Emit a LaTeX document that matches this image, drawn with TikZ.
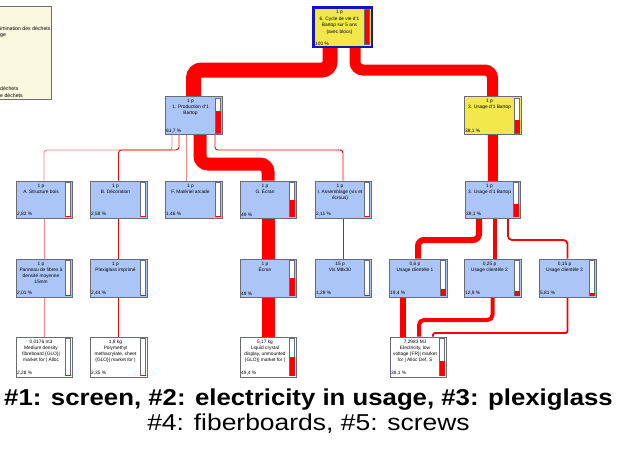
\documentclass[tikz,border=0pt]{standalone}
\usepackage{fontspec}
\setmainfont{Liberation Sans}
\usetikzlibrary{backgrounds}
\definecolor{nodeblue}{RGB}{170,197,246}
\definecolor{nodeyellow}{RGB}{242,232,76}
\definecolor{legendyellow}{RGB}{250,248,222}
\definecolor{bordergray}{RGB}{105,108,118}
\definecolor{topblue}{RGB}{20,20,190}
\definecolor{flowred}{RGB}{255,0,0}
\tikzset{
  box/.style={draw=bordergray, line width=0.9pt, inner sep=0pt, rectangle},
  bluebox/.style={box, fill=nodeblue},
  yelbox/.style={box, fill=nodeyellow},
  whitebox/.style={box, fill=white},
  topbox/.style={box, fill=nodeyellow, draw=topblue, line width=2.5pt},
  txt/.style={font=\fontsize{4.8}{6}\selectfont, align=center, inner sep=0pt},
  legtxt/.style={font=\fontsize{5.2}{6}\selectfont, inner sep=0pt},
  flow/.style={draw=flowred, rounded corners=8pt},
  thinflow/.style={draw=flowred, line width=0.9pt, rounded corners=3pt},
  paleflow/.style={thinflow, draw=flowred!50}
}
% #1 name, #2 cx, #3 cy, #4 w, #5 h, #6 style, #7 share, #8 text, #9 percent
\newcommand\procnode[9]{%
  \node[#6, minimum width=#4pt, minimum height=#5pt] (#1) at (#2,#3) {};
  \draw[draw=bordergray, fill=white, line width=0.5pt]
    ({#2+#4/2-6.5},{#3-#5/2+1.5}) rectangle ({#2+#4/2-1.5},{#3+#5/2-1.5});
  \fill[flowred] ({#2+#4/2-6.5},{#3+#5/2-1.5}) rectangle ({#2+#4/2-1.5},{#3+#5/2-1.5-#7*(#5-3)});
  \node[txt, anchor=north] (#1-t) at ({#2-3},{#3-#5/2+2.5}) {#8};
  \node[txt, anchor=south west] (#1-p) at ({#2-#4/2+1},{#3+#5/2-1.5}) {#9};
}
\begin{document}
\begin{tikzpicture}[x=1pt, y=-1pt]
\useasboundingbox (0,0) rectangle (617,448);

% legend (cut off at the left edge)
\node[draw=bordergray, fill=legendyellow, line width=0.9pt, minimum width=60pt,
      minimum height=93pt, inner sep=0pt, anchor=north east] (legend) at (52,6) {};
\node[legtxt, anchor=base west] (leg1) at (0,30) {imination des déchets};
\node[legtxt, anchor=base west] (leg2) at (0,36) {ge};
\node[legtxt, anchor=base west] (leg3) at (0,90) {déchets};
\node[legtxt, anchor=base west] (leg4) at (0,97) {e déchets};

% top node
\node[topbox, minimum width=58.5pt, minimum height=39.5pt] (top) at (342.5,27) {};
\draw[draw=bordergray, fill=flowred, line width=0.5pt] (364.5,9.5) rectangle (369.5,44.5);
\node[txt, font=\fontsize{4.8}{6.5}\selectfont, anchor=north] (top-t) at (339.5,10)
  {1 p\\6. Cycle de vie d'1\\Bartop sur 5 ans\\(avec blocs)};
\node[txt, anchor=south west] (top-p) at (315,45.5) {100 \%};

% level 1
\procnode{prod}{193.5}{115.5}{57}{38}{bluebox}{0.617}{1 p\\1. Production d'1\\Bartop}{61,7 \%}
\procnode{use1}{492.5}{115.5}{57}{38}{yelbox}{0.381}{1 p\\3. Usage d'1 Bartop}{38,1 \%}

% level 2
\procnode{A}{44}{199.5}{56}{37}{bluebox}{0.0282}{1 p\\A. Structure bois}{2,82 \%}
\procnode{B}{118.5}{199.5}{57}{37}{bluebox}{0.0258}{1 p\\B. Décoration}{2,58 \%}
\procnode{F}{193.5}{199.5}{57}{37}{bluebox}{0.0146}{1 p\\F. Matériel arcade}{1,46 \%}
\procnode{G}{268}{199.5}{56}{37}{bluebox}{0.49}{1 p\\G. Écran}{49 \%}
\procnode{I}{343}{199.5}{56}{37}{bluebox}{0.0211}{1 p\\I. Assemblage (vis et\\écrous)}{2,11 \%}
\procnode{use2}{492.5}{199.5}{55}{37}{bluebox}{0.381}{1 p\\3. Usage d'1 Bartop}{38,1 \%}

% level 3
\procnode{pan}{44}{278}{56}{38}{bluebox}{0.0201}{1 p\\Panneau de fibres à\\densité moyenne\\15mm}{2,01 \%}
\procnode{plexi}{118.5}{278}{57}{38}{bluebox}{0.0244}{1 p\\Plexiglass imprimé}{2,44 \%}
\procnode{ecran}{268}{278}{56}{38}{bluebox}{0.49}{1 p\\Écran}{49 \%}
\procnode{vis}{343}{278}{56}{38}{bluebox}{0.0129}{15 p\\Vis M8x30}{1,29 \%}
\procnode{uc1}{418}{278}{58}{38}{bluebox}{0.194}{0,6 p\\Usage clientèle 1}{19,4 \%}
\procnode{uc2}{492.5}{278}{57}{38}{bluebox}{0.129}{0,25 p\\Usage clientèle 2}{12,9 \%}
\procnode{uc3}{567.5}{278}{57}{38}{bluebox}{0.0581}{0,15 p\\Usage clientèle 3}{5,81 \%}

% level 4
\procnode{mdf}{44}{357}{56}{40}{whitebox}{0.0228}{0,0176 m3\\Medium density\\fibreboard \{GLO\}|\\market for | Alloc}{2,28 \%}
\procnode{pmma}{118.5}{357}{57}{40}{whitebox}{0.0235}{1,8 kg\\Polymethyl\\methacrylate, sheet\\\{GLO\}| market for |}{2,35 \%}
\procnode{lcd}{268}{357}{56}{40}{whitebox}{0.494}{5,17 kg\\Liquid crystal\\display, unmounted\\\{GLO\}| market for |}{49,4 \%}
\procnode{elec}{418}{357}{56}{40}{whitebox}{0.381}{7,2983 MJ\\Electricity, low\\voltage \{FR\}| market\\for | Alloc Def, S}{38,1 \%}

% caption
\node[font=\fontsize{23}{26}\bfseries, inner sep=0pt] (cap1) at (308.5,400)
  {\scalebox{1.12}[1]{\#1: screen, \#2: electricity in usage, \#3: plexiglass}};
\node[font=\fontsize{23}{26}\selectfont, inner sep=0pt] (cap2) at (308.5,424)
  {\scalebox{1.15}[1]{\#4: fiberboards, \#5: screws}};

% connectors
\begin{pgfonlayer}{background}
\coordinate (t1) at ([xshift=-12.5pt]top.south);
\coordinate (t2) at ([xshift=12.5pt]top.south);
\draw[flow, line width=15pt] (t1) -- (t1 |- 0,70) -- (prod.north |- 0,70) -- (prod.north);
\draw[flow, line width=11pt] (t2) -- (t2 |- 0,70) -- (use1.north |- 0,70) -- (use1.north);

\coordinate (pA) at ([xshift=-21.5pt]prod.south);
\coordinate (pB) at ([xshift=-14.5pt]prod.south);
\coordinate (pF) at ([xshift=-7.5pt]prod.south);
\coordinate (pG) at ([xshift=6.5pt]prod.south);
\coordinate (pI) at ([xshift=21.5pt]prod.south);
\coordinate (fF) at (pF |- F.north);
\draw[paleflow] (pA) -- (pA |- 0,150) -- (A.north |- 0,150) -- (A.north);
\draw[thinflow] (pB) -- (pB |- 0,150) -- (B.north |- 0,150) -- (B.north);
\draw[paleflow] (pF) -- (fF);
\draw[flow, line width=13pt] (pG) -- (pG |- 0,164) -- (G.north |- 0,164) -- (G.north);
\draw[thinflow] (pI) -- (pI |- 0,150) -- (I.north |- 0,150) -- (I.north);

\draw[paleflow] (A.south) -- (pan.north);
\draw[thinflow] (B.south) -- (plexi.north);
\draw[flow, line width=13pt] (G.south) -- (ecran.north);
\draw[thinflow] (I.south) -- (vis.north);
\draw[paleflow] (pan.south) -- (mdf.north);
\draw[thinflow] (plexi.south) -- (pmma.north);
\draw[flow, line width=13pt] (ecran.south) -- (lcd.north);

\draw[flow, line width=10pt] (use1.south) -- (use2.north);
\coordinate (u1) at ([xshift=-13.5pt]use2.south);
\coordinate (u2) at ([xshift=2pt]use2.south);
\coordinate (u3) at ([xshift=15.5pt]use2.south);
\coordinate (c2) at ([xshift=2pt]uc2.north);
\draw[flow, line width=6pt, rounded corners=6pt] (u1) -- (u1 |- 0,240) -- (uc1.north |- 0,240) -- (uc1.north);
\draw[flow, line width=4pt] (u2) -- (c2);
\draw[flow, line width=1.8pt, rounded corners=4pt] (u3) -- (u3 |- 0,240) -- (uc3.north |- 0,240) -- (uc3.north);

\coordinate (s1) at ([xshift=-15pt]uc1.south);
\coordinate (e1) at ([xshift=-15pt]elec.north);
\coordinate (e2) at ([xshift=1pt]elec.north);
\coordinate (e3) at ([xshift=15pt]elec.north);
\draw[flow, line width=6pt] (s1) -- (e1);
\draw[flow, line width=4pt, rounded corners=5pt] (uc2.south) -- (uc2.south |- 0,320) -- (e2 |- 0,320) -- (e2);
\draw[flow, line width=1.8pt, rounded corners=2pt] (uc3.south) -- (uc3.south |- 0,333) -- (e3 |- 0,333) -- (e3);
\end{pgfonlayer}
\end{tikzpicture}
\end{document}
